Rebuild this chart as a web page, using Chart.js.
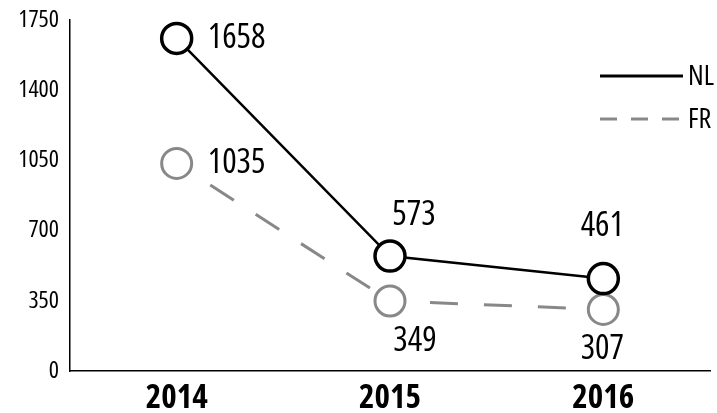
<!DOCTYPE html>
<html>
<head>
<meta charset="utf-8">
<script src="https://cdn.jsdelivr.net/npm/chart.js@4/dist/chart.umd.min.js"></script>
<style>
  html, body { margin: 0; padding: 0; background: #fff; overflow: hidden; }
  #wrap { width: 717px; height: 413px; }
</style>
</head>
<body>
<div id="wrap"><canvas id="myChart"></canvas></div>
<script>
'use strict';
//////////////// data

let years = ['2014', '2015', '2016'];
let nlValues = [1658, 573, 461];
let frValues = [1035, 349, 307];
let yTicks = [0, 350, 700, 1050, 1400, 1750];

let fontName = '"Open Sans", sans-serif';

// label placement next to each point: [dx, dy, align]
let nlLabelPos = [[31, 0, 'left'], [24, -41, 'center'], [-1, -52, 'center']];
let frLabelPos = [[31, 0, 'left'], [25, 40, 'center'], [-1, 40, 'center']];

///////////////////// value labels
let valueLabels = {
  id: 'valueLabels',
  afterDatasetsDraw(chart) {
    let ctx = chart.ctx;
    ctx.save();
    ctx.font = 'condensed 34px ' + fontName;
    ctx.fillStyle = '#000';
    ctx.textBaseline = 'middle';
    chart.data.datasets.forEach((ds, i) => {
      let meta = chart.getDatasetMeta(i);
      let pos = i === 0 ? nlLabelPos : frLabelPos;
      meta.data.forEach((pt, j) => {
        ctx.textAlign = pos[j][2];
        ctx.fillText(String(ds.data[j]), pt.x + pos[j][0], pt.y + pos[j][1]);
      });
    });
    ctx.restore();
  }
};

///////////////////// legend on the right
let sideLegend = {
  id: 'sideLegend',
  afterDraw(chart) {
    let ctx = chart.ctx;
    ctx.save();
    ctx.font = 'condensed 28px ' + fontName;
    ctx.textBaseline = 'middle';
    ctx.textAlign = 'left';
    chart.data.datasets.forEach((ds, i) => {
      let y = 76 + i * 43;
      ctx.beginPath();
      ctx.strokeStyle = ds.borderColor;
      ctx.lineWidth = 3;
      ctx.setLineDash(i === 0 ? [] : [17, 14]);
      ctx.moveTo(600, y);
      ctx.lineTo(683, y);
      ctx.stroke();
      ctx.setLineDash([]);
      ctx.fillStyle = '#000';
      ctx.fillText(ds.label, 688, y + 1);
    });
    ctx.restore();
  }
};

function chart() {
  let ctx = document.getElementById('myChart').getContext('2d');
  return new Chart(ctx, {
    type: 'line',
    data: {
      labels: years,
      datasets: [
        {
          label: 'NL',
          data: nlValues,
          borderColor: '#000',
          borderWidth: 2.5,
          pointRadius: 15,
          pointHoverRadius: 15,
          pointBorderWidth: 3.5,
          pointBackgroundColor: '#fff',
          pointBorderColor: '#000',
          tension: 0
        },
        {
          label: 'FR',
          data: frValues,
          borderColor: '#888',
          borderWidth: 3,
          borderDash: [28, 26],
          segment: {
            borderDashOffset: c => c.p0DataIndex === 0 ? 14 : 68
          },
          pointRadius: 15,
          pointHoverRadius: 15,
          pointBorderWidth: 3,
          pointBackgroundColor: '#fff',
          pointBorderColor: '#888',
          tension: 0
        }
      ]
    },
    options: {
      responsive: true,
      maintainAspectRatio: false,
      animation: false,
      events: [],
      layout: { autoPadding: false, padding: { top: 20, right: 7, left: 0, bottom: 0 } },
      plugins: {
        legend: { display: false },
        tooltip: { enabled: false }
      },
      scales: {
        x: {
          offset: true,
          grid: { display: false, drawTicks: false },
          border: { color: '#000', width: 1.5 },
          ticks: {
            color: '#000',
            padding: 8,
            font: { family: fontName, size: 33, weight: 'bold condensed' }
          },
          afterFit(scale) {
            scale.height = 42;
            scale.paddingLeft = 0;
            scale.paddingRight = 0;
          }
        },
        y: {
          min: 0,
          max: 1750,
          afterBuildTicks(scale) { scale.ticks = yTicks.map(v => ({ value: v })); },
          grid: { display: false, drawTicks: false },
          border: { color: '#000', width: 1.5 },
          ticks: {
            color: '#000',
            padding: 11,
            font: { family: fontName, size: 24, weight: 'condensed' },
            callback: v => String(v)
          },
          afterFit(scale) {
            scale.width = 70;
            scale.paddingTop = 0;
            scale.paddingBottom = 0;
          }
        }
      }
    },
    plugins: [valueLabels, sideLegend]
  });
}

chart();
</script>
</body>
</html>
